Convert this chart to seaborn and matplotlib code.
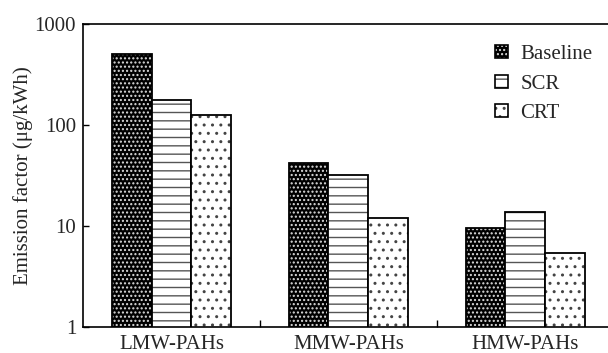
import numpy as np
import pandas as pd
import seaborn as sns
import matplotlib
matplotlib.use("Agg")
from matplotlib import pyplot as plt
from matplotlib.patches import Patch
from matplotlib.ticker import FixedLocator, NullLocator, FixedFormatter

# data (ug/kWh)
groups = ['LMW-PAHs', 'MMW-PAHs', 'HMW-PAHs']
treatments = ['Baseline', 'SCR', 'CRT']
baseline = [505, 42, 9.5]
scr = [177, 32, 13.8]
crt = [126, 12, 5.4]

df = pd.DataFrame({
    'group': groups * 3,
    'treatment': [t for t in treatments for _ in groups],
    'value': baseline + scr + crt,
})

sns.set_theme(style='white')
plt.rcParams['font.family'] = ['Liberation Serif', 'DejaVu Serif']
plt.rcParams['hatch.linewidth'] = 1.0

fig = plt.figure(figsize=(6.08, 3.53), dpi=100)
ax = fig.add_axes([0.1365, 0.0737, 0.873, 0.858])

sns.barplot(data=df, x='group', y='value', hue='treatment', order=groups,
            hue_order=treatments, width=0.675, gap=0, ax=ax, legend=False,
            errorbar=None)

# hatch styles for each treatment
styles = {
    'Baseline': dict(face='black', hatch='....', hcol='#dddddd'),
    'SCR': dict(face='white', hatch='--', hcol='#555555'),
    'CRT': dict(face='white', hatch='..', hcol='#444444'),
}
for cont, t in zip(ax.containers, treatments):
    st = styles[t]
    for p in cont:
        p.set_facecolor(st['face'])
        p.set_edgecolor('black')
        p.set_linewidth(1.3)
        p.set_hatch(st['hatch'])
        p._hatch_color = matplotlib.colors.to_rgba(st['hcol'])

ax.set_yscale('log')
ax.set_ylim(1, 1000)
ax.set_xlim(-0.5, 2.5)
ax.yaxis.set_major_locator(FixedLocator([1, 10, 100, 1000]))
ax.yaxis.set_major_formatter(FixedFormatter(['1', '10', '100', '1000']))
ax.yaxis.set_minor_locator(NullLocator())
ax.set_xticks([0, 1, 2])
ax.set_xticklabels(groups)
ax.set_xticks([0.5, 1.5, 2.5], minor=True)
ax.tick_params(axis='x', which='major', length=0, pad=6, labelsize=15)
ax.tick_params(axis='x', which='minor', direction='in', length=5, width=1, color='black', bottom=True)
ax.tick_params(axis='y', which='major', direction='in', length=4, width=1, color='black', left=True, labelsize=15, pad=5)

for s in ['left', 'bottom', 'top']:
    ax.spines[s].set_color('black')
    ax.spines[s].set_linewidth(1.2)
ax.spines['right'].set_visible(False)

ax.set_xlabel('')
ax.set_ylabel('Emission factor (\u03bcg/kWh)', fontsize=15, labelpad=1)

handles = []
for t in treatments:
    st = styles[t]
    h = Patch(facecolor=st['face'], edgecolor='black', hatch=st['hatch'], linewidth=1.2)
    h._hatch_color = matplotlib.colors.to_rgba(st['hcol'])
    handles.append(h)
ax.legend(handles, treatments, loc='upper right', bbox_to_anchor=(1.005, 0.925),
          bbox_transform=fig.transFigure, frameon=False, fontsize=15,
          handlelength=0.6, handleheight=0.6, handletextpad=0.6, labelspacing=0.5)

fig.savefig('out.png', dpi=100)
